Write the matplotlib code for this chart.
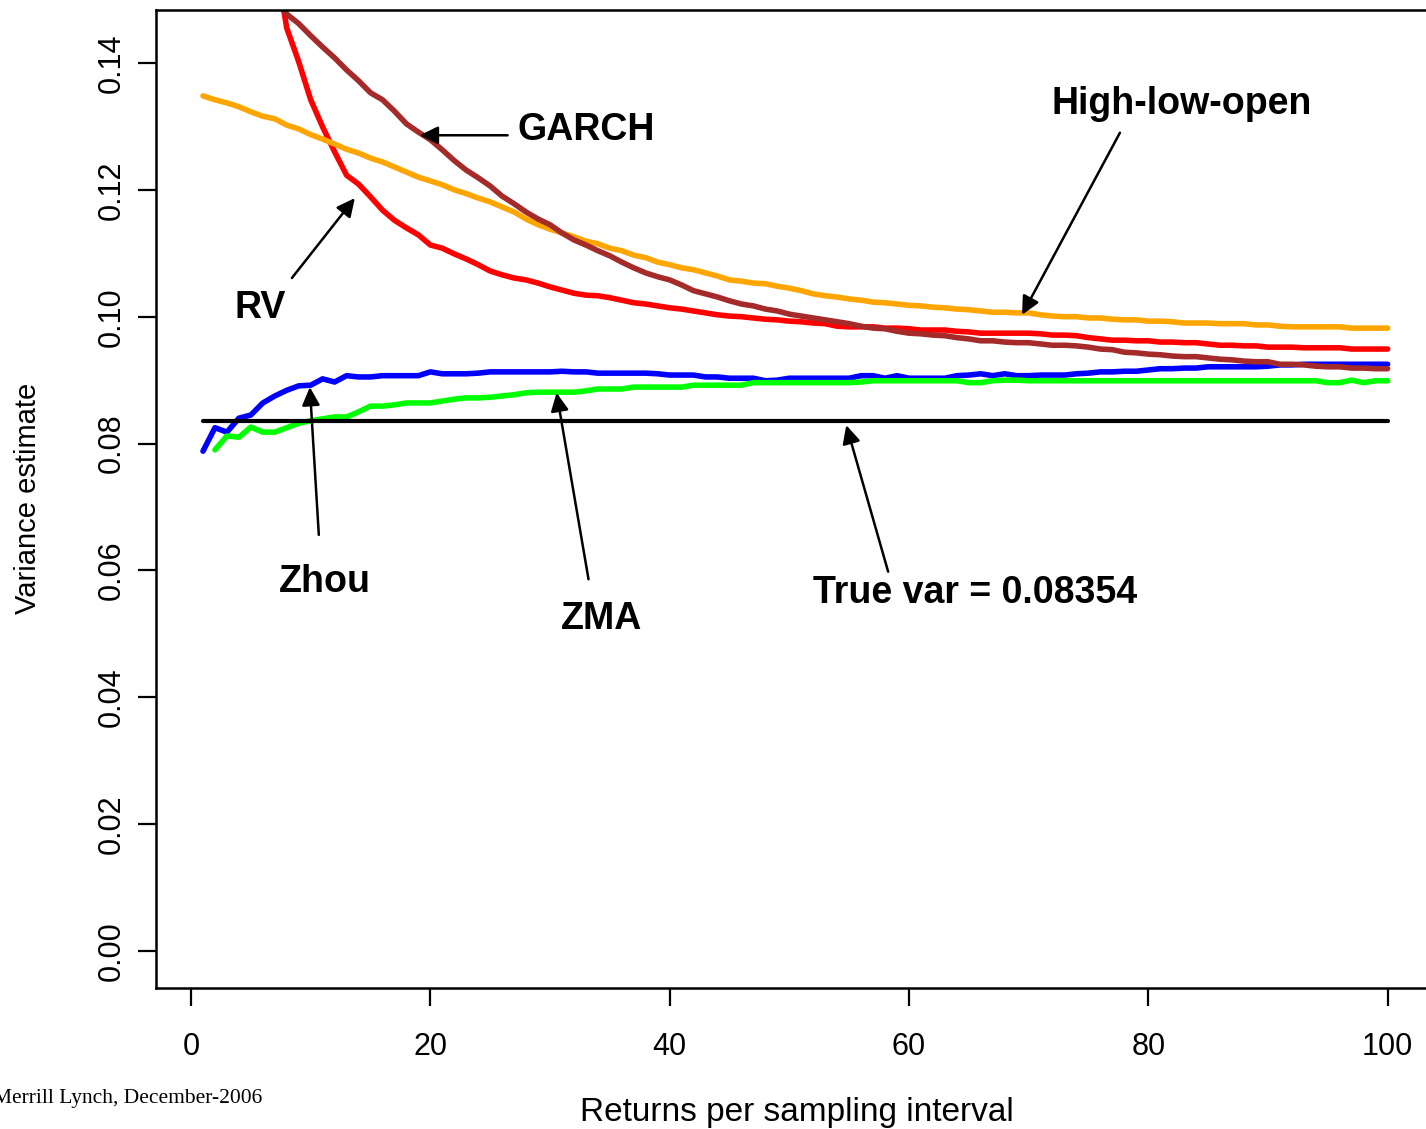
import matplotlib
matplotlib.use("Agg")
import matplotlib.pyplot as plt

plt.rcParams['font.family'] = ['Liberation Sans', 'DejaVu Sans']

# ---------------- data ----------------
x_hlo = list(range(1, 101))
hlo = [0.1348, 0.1342, 0.1337, 0.1331, 0.1323, 0.1316, 0.1312, 0.1302, 0.1296, 0.1287,
       0.1280, 0.1272, 0.1264, 0.1258, 0.1250, 0.1244, 0.1236, 0.1228, 0.1220, 0.1214,
       0.1208, 0.1200, 0.1194, 0.1187, 0.1181, 0.1173, 0.1165, 0.1154, 0.1145, 0.1138,
       0.1132, 0.1126, 0.1119, 0.1115, 0.1108, 0.1104, 0.1097, 0.1093, 0.1086, 0.1082,
       0.1077, 0.1074, 0.1069, 0.1064, 0.1058, 0.1056, 0.1053, 0.1052, 0.1048, 0.1045,
       0.1041, 0.1036, 0.1033, 0.1031, 0.1028, 0.1026, 0.1023, 0.1022, 0.1020, 0.1018,
       0.1017, 0.1015, 0.1014, 0.1012, 0.1011, 0.1009, 0.1007, 0.1007, 0.1006, 0.1006,
       0.1003, 0.1001, 0.1000, 0.1000, 0.0998, 0.0998, 0.0996, 0.0995, 0.0995, 0.0993,
       0.0993, 0.0992, 0.0990, 0.0990, 0.0990, 0.0989, 0.0989, 0.0989, 0.0987, 0.0987,
       0.0985, 0.0984, 0.0984, 0.0984, 0.0984, 0.0984, 0.0982, 0.0982, 0.0982, 0.0982]

x_rv = list(range(7, 101))
rv = [0.1570,
      0.1455, 0.1402, 0.1342, 0.1299, 0.1260, 0.1223, 0.1209, 0.1189, 0.1168, 0.1152,
      0.1140, 0.1129, 0.1113, 0.1108, 0.1099, 0.1091, 0.1082, 0.1072, 0.1066, 0.1061,
      0.1058, 0.1053, 0.1047, 0.1042, 0.1037, 0.1034, 0.1033, 0.1030, 0.1026, 0.1022,
      0.1020, 0.1017, 0.1014, 0.1012, 0.1009, 0.1006, 0.1003, 0.1001, 0.1000, 0.0998,
      0.0996, 0.0995, 0.0993, 0.0992, 0.0990, 0.0989, 0.0985, 0.0984, 0.0984, 0.0984,
      0.0982, 0.0982, 0.0981, 0.0979, 0.0979, 0.0979, 0.0977, 0.0976, 0.0974, 0.0974,
      0.0974, 0.0974, 0.0974, 0.0973, 0.0971, 0.0971, 0.0970, 0.0967, 0.0965, 0.0963,
      0.0963, 0.0962, 0.0962, 0.0960, 0.0960, 0.0959, 0.0959, 0.0957, 0.0955, 0.0955,
      0.0954, 0.0954, 0.0952, 0.0952, 0.0952, 0.0951, 0.0951, 0.0951, 0.0951, 0.0949,
      0.0949, 0.0949, 0.0949]

x_garch = list(range(7, 101))
garch = [0.1500,
         0.1477, 0.1462, 0.1443, 0.1425, 0.1408, 0.1389, 0.1372, 0.1353, 0.1342, 0.1324,
         0.1304, 0.1291, 0.1279, 0.1263, 0.1246, 0.1231, 0.1219, 0.1206, 0.1190, 0.1178,
         0.1165, 0.1154, 0.1145, 0.1132, 0.1121, 0.1113, 0.1104, 0.1096, 0.1086, 0.1077,
         0.1069, 0.1063, 0.1058, 0.1050, 0.1041, 0.1036, 0.1031, 0.1025, 0.1020, 0.1017,
         0.1012, 0.1009, 0.1004, 0.1001, 0.0998, 0.0995, 0.0992, 0.0989, 0.0985, 0.0982,
         0.0981, 0.0977, 0.0974, 0.0973, 0.0971, 0.0970, 0.0967, 0.0965, 0.0962, 0.0962,
         0.0960, 0.0959, 0.0959, 0.0957, 0.0955, 0.0955, 0.0954, 0.0952, 0.0949, 0.0948,
         0.0944, 0.0943, 0.0941, 0.0940, 0.0938, 0.0937, 0.0937, 0.0935, 0.0933, 0.0932,
         0.0930, 0.0929, 0.0929, 0.0925, 0.0925, 0.0924, 0.0922, 0.0921, 0.0921, 0.0919,
         0.0919, 0.0918, 0.0918]

x_zhou = list(range(1, 101))
zhou = [0.0788, 0.0825, 0.0818, 0.0840, 0.0845, 0.0864, 0.0875, 0.0884, 0.0891, 0.0892,
        0.0902, 0.0897, 0.0907, 0.0905, 0.0905, 0.0907, 0.0907, 0.0907, 0.0907, 0.0913,
        0.0910, 0.0910, 0.0910, 0.0911, 0.0913, 0.0913, 0.0913, 0.0913, 0.0913, 0.0913,
        0.0914, 0.0913, 0.0913, 0.0911, 0.0911, 0.0911, 0.0911, 0.0911, 0.0910, 0.0908,
        0.0908, 0.0908, 0.0905, 0.0905, 0.0903, 0.0903, 0.0903, 0.0899, 0.0900, 0.0903,
        0.0903, 0.0903, 0.0903, 0.0903, 0.0903, 0.0907, 0.0907, 0.0903, 0.0907, 0.0903,
        0.0903, 0.0903, 0.0903, 0.0907, 0.0908, 0.0910, 0.0907, 0.0910, 0.0907, 0.0907,
        0.0908, 0.0908, 0.0908, 0.0910, 0.0911, 0.0913, 0.0913, 0.0914, 0.0914, 0.0916,
        0.0918, 0.0918, 0.0919, 0.0919, 0.0921, 0.0921, 0.0921, 0.0921, 0.0921, 0.0922,
        0.0924, 0.0924, 0.0925, 0.0925, 0.0925, 0.0925, 0.0925, 0.0925, 0.0925, 0.0925]

x_zma = list(range(2, 101))
zma = [0.0790, 0.0812, 0.0810, 0.0826, 0.0818, 0.0818, 0.0825, 0.0832, 0.0836,
       0.0839, 0.0842, 0.0842, 0.0850, 0.0859, 0.0859, 0.0861, 0.0864, 0.0864, 0.0864,
       0.0867, 0.0870, 0.0872, 0.0872, 0.0873, 0.0875, 0.0877, 0.0880, 0.0881, 0.0881,
       0.0881, 0.0881, 0.0883, 0.0886, 0.0886, 0.0886, 0.0889, 0.0889, 0.0889, 0.0889,
       0.0889, 0.0892, 0.0892, 0.0892, 0.0892, 0.0892, 0.0896, 0.0896, 0.0896, 0.0896,
       0.0896, 0.0896, 0.0896, 0.0896, 0.0896, 0.0897, 0.0899, 0.0899, 0.0899, 0.0899,
       0.0899, 0.0899, 0.0899, 0.0899, 0.0896, 0.0896, 0.0899, 0.0900, 0.0900, 0.0899,
       0.0899, 0.0899, 0.0899, 0.0899, 0.0899, 0.0899, 0.0899, 0.0899, 0.0899, 0.0899,
       0.0899, 0.0899, 0.0899, 0.0899, 0.0899, 0.0899, 0.0899, 0.0899, 0.0899, 0.0899,
       0.0899, 0.0899, 0.0899, 0.0899, 0.0896, 0.0896, 0.0900, 0.0896, 0.0899, 0.0899]

true_var = 0.08354
true_x = [1, 100]

x_ticks = [0, 20, 40, 60, 80, 100]
y_ticks = [0.00, 0.02, 0.04, 0.06, 0.08, 0.10, 0.12, 0.14]
y_ticklabels = ["0.00", "0.02", "0.04", "0.06", "0.08", "0.10", "0.12", "0.14"]

# ---------------- figure ----------------
W, H = 1426, 1129
fig = plt.figure(figsize=(W / 100, H / 100), dpi=100)
ax = fig.add_axes([155.6 / W, 1 - 988 / H, (1435 - 155.6) / W, 978 / H])

lw = 4.0
common = dict(lw=lw, solid_capstyle='round', solid_joinstyle='round')
ax.plot(x_zhou, zhou, color='#0000FF', **common)
ax.plot(x_zma, zma, color='#00FF00', **common)
ax.plot(x_rv, rv, color='#FF0000', **common)
ax.plot(x_hlo, hlo, color='#FFA500', **common)
ax.plot(x_garch, garch, color='#A52A2A', **common)
ax.plot(true_x, [true_var, true_var], color='black', lw=3.0, solid_capstyle='round')

ax.set_xlim(-2.96, 103.96)
ax.set_ylim(-0.00583, 0.14835)

ax.set_xticks(x_ticks)
ax.set_xticklabels([str(v) for v in x_ticks])
ax.set_yticks(y_ticks)
ax.set_yticklabels(y_ticklabels, rotation=90, va='center')

ax.tick_params(axis='both', direction='out', length=13, width=1.6, labelsize=22, color='black')
ax.tick_params(axis='x', pad=19)
ax.tick_params(axis='y', pad=8)

for s in ['left', 'top', 'bottom']:
    ax.spines[s].set_linewidth(1.8)
ax.spines['right'].set_visible(False)

# ---------------- annotations ----------------
arrow = dict(arrowstyle='-|>,head_length=0.55,head_width=0.27', lw=1.8, color='black',
             shrinkA=0, shrinkB=0, mutation_scale=20)
tfont = dict(fontsize=27, fontweight='bold', color='black')

ax.annotate('', xy=(19.12, 0.1286), xytext=(26.46, 0.1286), arrowprops=arrow)
ax.text(27.3, 0.1294, 'GARCH', ha='left', va='center', **tfont)

ax.annotate('', xy=(13.69, 0.1187), xytext=(8.43, 0.1061), arrowprops=arrow)
ax.text(5.76, 0.1014, 'RV', ha='center', va='center', **tfont)

ax.annotate('', xy=(69.45, 0.1003), xytext=(77.63, 0.1290), arrowprops=arrow)
ax.text(82.8, 0.1335, 'High-low-open', ha='center', va='center', **tfont)

ax.annotate('', xy=(9.93, 0.0889), xytext=(10.68, 0.0656), arrowprops=arrow)
ax.text(11.19, 0.0581, 'Zhou', ha='center', va='center', **tfont)

ax.annotate('', xy=(30.55, 0.0880), xytext=(33.22, 0.0586), arrowprops=arrow)
ax.text(34.31, 0.0523, 'ZMA', ha='center', va='center', **tfont)

ax.annotate('', xy=(54.76, 0.0829), xytext=(58.26, 0.0598), arrowprops=arrow)
ax.text(65.53, 0.0565, 'True var = 0.08354', ha='center', va='center', **tfont)

# ---------------- axis labels & note ----------------
fig.text(28 / W, 1 - 498 / H, 'Variance estimate', rotation=90, ha='center', va='center', fontsize=21)
fig.text(797 / W, 1 - 1112 / H, 'Returns per sampling interval', ha='center', va='center', fontsize=24)
fig.text(-7 / W, 1 - 1098 / H, 'Merrill Lynch, December-2006', ha='left', va='center',
         fontsize=15.5, family=['Liberation Serif', 'DejaVu Serif'])

fig.savefig('out.png', dpi=100)
